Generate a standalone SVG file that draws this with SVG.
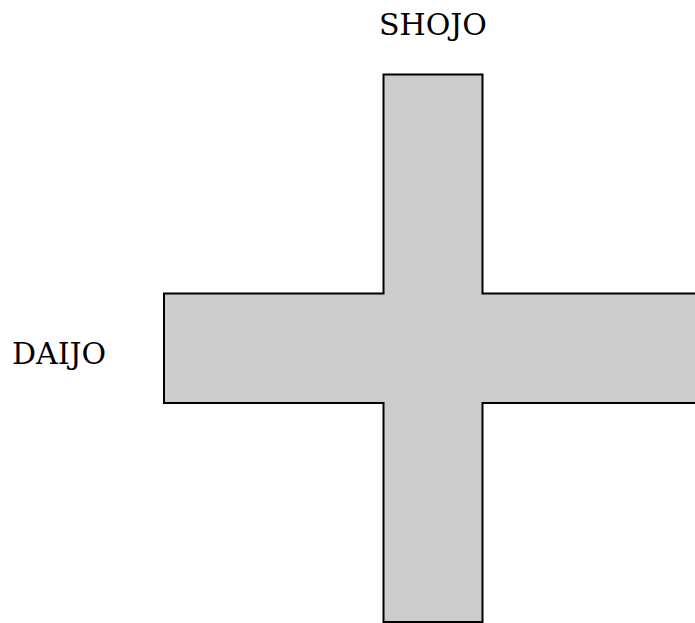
<svg xmlns="http://www.w3.org/2000/svg" width="695" height="623" viewBox="0 0 695 623">
<style>
.lbl{font-family:"DejaVu Serif",serif;font-size:30px;fill:#000}
.shape{fill:#cccccc;stroke:#000;stroke-width:2}
</style>
<rect width="695" height="623" fill="#fff"/>
<g id="cross">
<path class="shape" d="M383.5 74.5 H482.5 V293.5 H702 V403 H482.5 V622 H383.5 V403 H164 V293.5 H383.5 Z"/>
</g>
<g id="shojo"><text class="lbl" x="433" y="35" text-anchor="middle">SHOJO</text></g>
<g id="daijo"><text class="lbl" x="12" y="364">DAIJO</text></g>
</svg>
